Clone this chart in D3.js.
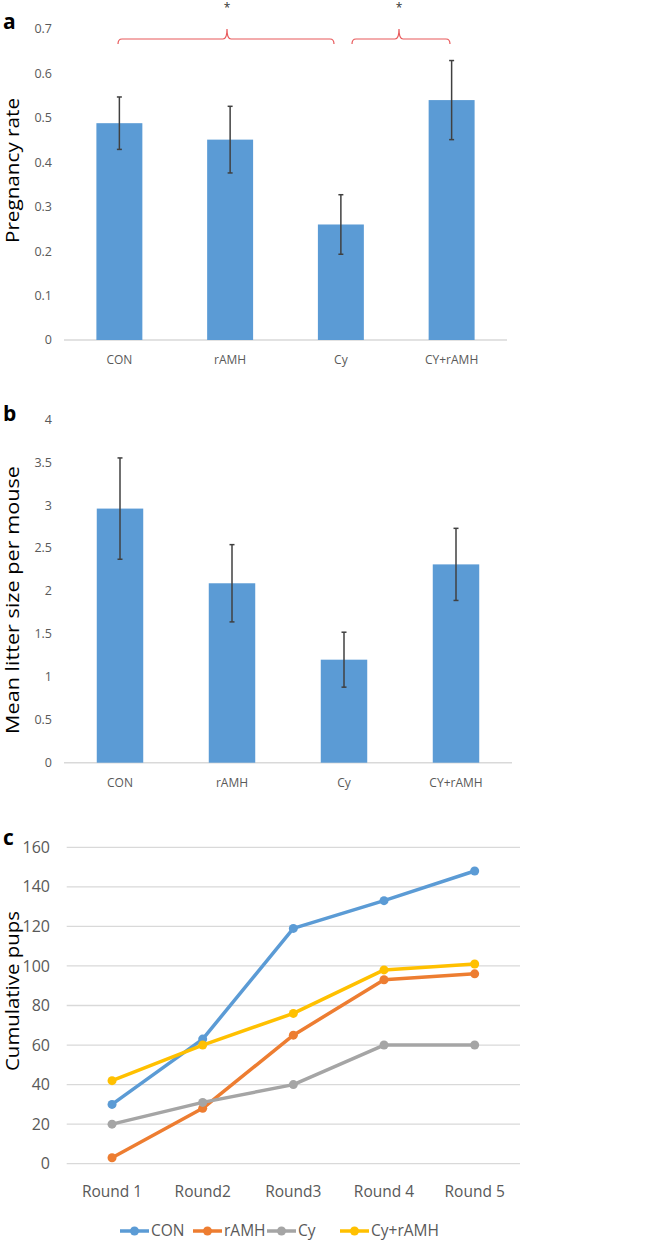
<!DOCTYPE html>
<html><head><meta charset="utf-8">
<script src="https://cdn.jsdelivr.net/npm/d3@7"></script>
<style>body{margin:0;background:#fff}svg{display:block}text{font-family:"Open Sans","Noto Sans",sans-serif}</style>
</head><body><svg id="c" width="650" height="1242"></svg>
<script>
const groups = ["CON","rAMH","Cy","CY+rAMH"];
const pregRate = [0.488, 0.451, 0.260, 0.540];
const pregErr = [0.059, 0.075, 0.067, 0.089];
const pregTicks = [0,0.1,0.2,0.3,0.4,0.5,0.6,0.7];
const litter = [2.96, 2.09, 1.20, 2.31];
const litterErr = [0.59, 0.45, 0.32, 0.42];
const litterTicks = [0,0.5,1,1.5,2,2.5,3,3.5,4];
const rounds = ["Round 1","Round2","Round3","Round 4","Round 5"];
const seriesNames = ["CON","rAMH","Cy","Cy+rAMH"];
const conPups = [30,63,119,133,148];
const ramhPups = [3,28,65,93,96];
const cyPups = [20,31,40,60,60];
const cyRamhPups = [42,60,76,98,101];
const pupTicks = [0,20,40,60,80,100,120,140,160];
const colors = ["#5B9BD5","#ED7D31","#A5A5A5","#FFC000"];

const svg = d3.select("#c");
const tickCol = "#595959";

function yLabel(g, text, cy, len){
  g.append("text").attr("transform",`translate(19,${cy}) rotate(-90)`).attr("text-anchor","middle")
    .attr("font-size",17.5).attr("fill","#000").attr("textLength",len).attr("lengthAdjust","spacingAndGlyphs").text(text);
}

function barPanel(opt){
  const g = svg.append("g");
  const x = d3.scaleBand().domain(groups).range([opt.x0, opt.x1]).paddingInner(0.585).paddingOuter(0.2925);
  const y = d3.scaleLinear().domain(opt.domain).range([opt.y0, opt.y1]);
  g.append("line").attr("x1",opt.x0).attr("x2",opt.x1).attr("y1",y(0)).attr("y2",y(0)).attr("stroke","#d9d9d9").attr("stroke-width",1.5);
  g.selectAll(".yt").data(opt.ticks).join("text").attr("x",52).attr("y",d=>y(d)).attr("dy","0.35em")
    .attr("text-anchor","end").attr("font-size",12.5).attr("fill",tickCol).text(d=>d);
  g.selectAll(".bar").data(opt.values).join("rect").attr("x",(d,i)=>x(groups[i])).attr("width",x.bandwidth())
    .attr("y",d=>y(d)).attr("height",d=>y(0)-y(d)).attr("fill","#5B9BD5");
  const eg = g.selectAll(".err").data(opt.values).join("g");
  eg.append("line").attr("x1",(d,i)=>x(groups[i])+x.bandwidth()/2).attr("x2",(d,i)=>x(groups[i])+x.bandwidth()/2)
    .attr("y1",(d,i)=>y(d+opt.err[i])).attr("y2",(d,i)=>y(d-opt.err[i])).attr("stroke","#404040").attr("stroke-width",1.5);
  [1,-1].forEach(s=>{
    eg.append("line").attr("x1",(d,i)=>x(groups[i])+x.bandwidth()/2-2.5).attr("x2",(d,i)=>x(groups[i])+x.bandwidth()/2+2.5)
      .attr("y1",(d,i)=>y(d+s*opt.err[i])).attr("y2",(d,i)=>y(d+s*opt.err[i])).attr("stroke","#404040").attr("stroke-width",1.5);
  });
  g.selectAll(".xl").data(groups).join("text").attr("x",d=>x(d)+x.bandwidth()/2).attr("y",opt.catY)
    .attr("text-anchor","middle").attr("font-size",12).attr("fill",tickCol).text(d=>d);
  yLabel(g, opt.label, opt.labelY, opt.labelLen);
  g.append("text").attr("x",3).attr("y",opt.letterY).attr("font-family","Liberation Sans, Arial").attr("font-weight","bold")
    .attr("font-size",21).text(opt.letter);
  return {x,y};
}

barPanel({x0:64,x1:507,y0:340,y1:29,domain:[0,0.7],ticks:pregTicks,values:pregRate,err:pregErr,
  catY:364,label:"Pregnancy rate",labelY:170.5,labelLen:145,letter:"a",letterY:29});
barPanel({x0:64,x1:512,y0:762.7,y1:419.3,domain:[0,4],ticks:litterTicks,values:litter,err:litterErr,
  catY:787,label:"Mean litter size per mouse",labelY:600,labelLen:268,letter:"b",letterY:421});

function brace(xa, xb, xm){
  const yEnd=44, yH=39, yTop=29, r=4;
  const p = d3.path();
  p.moveTo(xa,yEnd); p.quadraticCurveTo(xa,yH,xa+r,yH);
  p.lineTo(xm-r,yH); p.quadraticCurveTo(xm,yH,xm,yTop);
  p.quadraticCurveTo(xm,yH,xm+r,yH);
  p.lineTo(xb-r,yH); p.quadraticCurveTo(xb,yH,xb,yEnd);
  svg.append("path").attr("d",p.toString()).attr("fill","none").attr("stroke","#E8595B").attr("stroke-width",1.2);
  svg.append("text").attr("x",xm).attr("y",12).attr("text-anchor","middle").attr("font-size",12).attr("fill","#333").text("*");
}
brace(118,334,227);
brace(352,450,399);

const gc = svg.append("g");
const xc = d3.scalePoint().domain(rounds).range([66.7,520]).padding(0.5);
const yc = d3.scaleLinear().domain([0,160]).range([1163.7,847.3]);
gc.selectAll(".grid").data(pupTicks).join("line").attr("x1",66.7).attr("x2",520).attr("y1",d=>yc(d)).attr("y2",d=>yc(d))
  .attr("stroke","#d9d9d9").attr("stroke-width",1.3);
gc.selectAll(".yt").data(pupTicks).join("text").attr("x",50).attr("y",d=>yc(d)).attr("dy","0.35em").attr("text-anchor","end")
  .attr("font-size",16).attr("fill",tickCol).text(d=>d);
gc.selectAll(".xt").data(rounds).join("text").attr("x",d=>xc(d)).attr("y",1197).attr("text-anchor","middle")
  .attr("font-size",15.5).attr("fill",tickCol).text(d=>d);
const allSeries = [conPups, ramhPups, cyPups, cyRamhPups];
const line = d3.line().x((d,i)=>xc(rounds[i])).y(d=>yc(d));
allSeries.forEach((s,k)=>{
  gc.append("path").attr("d",line(s)).attr("fill","none").attr("stroke",colors[k]).attr("stroke-width",3.5).attr("stroke-linejoin","round");
  gc.selectAll(".pt"+k).data(s).join("circle").attr("cx",(d,i)=>xc(rounds[i])).attr("cy",d=>yc(d)).attr("r",4.5).attr("fill",colors[k]);
});
yLabel(gc, "Cumulative pups", 991, 160);
gc.append("text").attr("x",3).attr("y",845).attr("font-family","Liberation Sans, Arial").attr("font-weight","bold").attr("font-size",21).text("c");
const legX = [120,193,267,340];
const lg = gc.selectAll(".lg").data(seriesNames).join("g").attr("transform",(d,i)=>`translate(${legX[i]},1231)`);
lg.append("line").attr("x1",0).attr("x2",29).attr("stroke",(d,i)=>colors[i]).attr("stroke-width",3.5);
lg.append("circle").attr("cx",14.5).attr("r",4.5).attr("fill",(d,i)=>colors[i]);
lg.append("text").attr("x",31).attr("dy","0.35em").attr("font-size",15.5).attr("fill",tickCol).text(d=>d);
</script></body></html>
